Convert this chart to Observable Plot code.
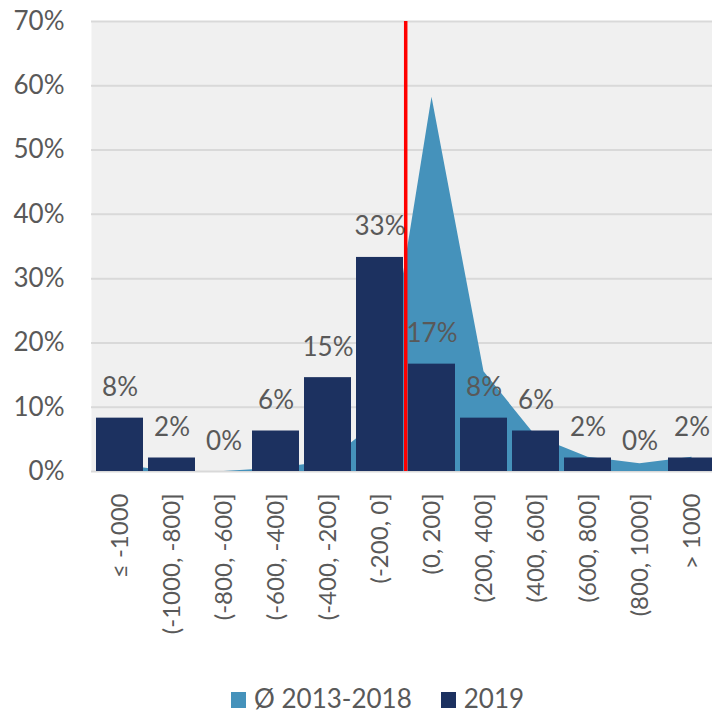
<!DOCTYPE html>
<html>
<head>
<meta charset="utf-8">
<script src="https://cdn.jsdelivr.net/npm/d3@7"></script>
<script src="https://cdn.jsdelivr.net/npm/@observablehq/plot@0.6"></script>
<style>
  html, body { margin: 0; padding: 0; background: #fff; overflow: hidden; width: 712px; height: 715px; }
  body { position: relative; font-family: Lato, "Open Sans", sans-serif; }
  #legend { position: absolute; left: 231px; top: 685px; display: flex; align-items: flex-start;
            font-size: 26px; line-height: 26px; color: #595959; white-space: nowrap; }
  .item { display: flex; align-items: flex-start; margin-right: 29px; }
  .sw { width: 15px; height: 16px; margin-right: 8px; margin-top: 7px; }
</style>
</head>
<body>
<div id="chart"></div>
<div id="legend"></div>
<script>
// Categories (x-axis tick labels)
const categories = ["≤ -1000", "(-1000, -800]", "(-800, -600]", "(-600, -400]", "(-400, -200]", "(-200, 0]",
  "(0, 200]", "(200, 400]", "(400, 600]", "(600, 800]", "(800, 1000]", "> 1000"];
// 2019 bars (%)
const values2019 = [8.3, 2.1, 0, 6.3, 14.6, 33.3, 16.7, 8.3, 6.3, 2.1, 0, 2.1];
// Ø 2013-2018 area (%)
const valuesAvg = [1.0, 0, 0, 0.5, 1.5, 8.0, 58.2, 15.5, 5.5, 2.2, 1.2, 2.2];
// y ticks (%)
const yTicks = [0, 10, 20, 30, 40, 50, 60, 70];
// series names
const seriesNames = ["Ø 2013-2018", "2019"];
const seriesColors = ["#4592bb", "#1c3160"];
// category where the red marker line starts
const markerCategory = "(0, 200]";

const bars = categories.map((c, i) => ({cat: c, v: values2019[i]}));
const area = categories.map((c, i) => ({cat: c, v: valuesAvg[i]}));

const W = 712, H = 685;
const xRange = [90, 721];
const step = (xRange[1] - xRange[0]) / categories.length;
const textColor = "#595959";

const chart = Plot.plot({
  width: W,
  height: H,
  marginTop: 21,
  marginBottom: H - 471,
  marginLeft: 91,
  marginRight: 0,
  style: {fontFamily: "Lato, 'Open Sans', sans-serif", background: "#fff", overflow: "hidden"},
  x: {type: "band", domain: categories, range: xRange, paddingInner: 0.1, paddingOuter: 0.05},
  y: {domain: [0, 70]},
  marks: [
    Plot.frame({fill: "#f0f0f0", stroke: null}),
    Plot.gridY(yTicks, {stroke: "#d9d9d9", strokeOpacity: 1, strokeWidth: 2}),
    Plot.areaY(area, {x: "cat", y: "v", fill: seriesColors[0], fillOpacity: 1}),
    Plot.barY(bars, {x: "cat", y: "v", fill: seriesColors[1]}),
    Plot.ruleX([markerCategory], {x: d => d, dx: -step / 2, stroke: "#ff0000", strokeWidth: 3.5}),
    Plot.text(bars, {x: "cat", y: "v", text: d => Math.round(d.v) + "%", lineAnchor: "bottom", dy: -22,
      fontSize: 26, fill: textColor}),
    Plot.axisY(yTicks, {tickFormat: d => d + "%", tickSize: 0, tickPadding: 27, fontSize: 26,
      color: textColor, label: null}),
    Plot.axisX({tickRotate: -90, tickSize: 0, tickPadding: 22, fontSize: 24, color: textColor, label: null})
  ]
});
document.getElementById("chart").appendChild(chart);

const legend = document.getElementById("legend");
seriesNames.forEach((name, i) => {
  const item = document.createElement("div");
  item.className = "item";
  const sw = document.createElement("div");
  sw.className = "sw";
  sw.style.background = seriesColors[i];
  const label = document.createElement("span");
  label.textContent = name;
  item.appendChild(sw);
  item.appendChild(label);
  legend.appendChild(item);
});
</script>
</body>
</html>
